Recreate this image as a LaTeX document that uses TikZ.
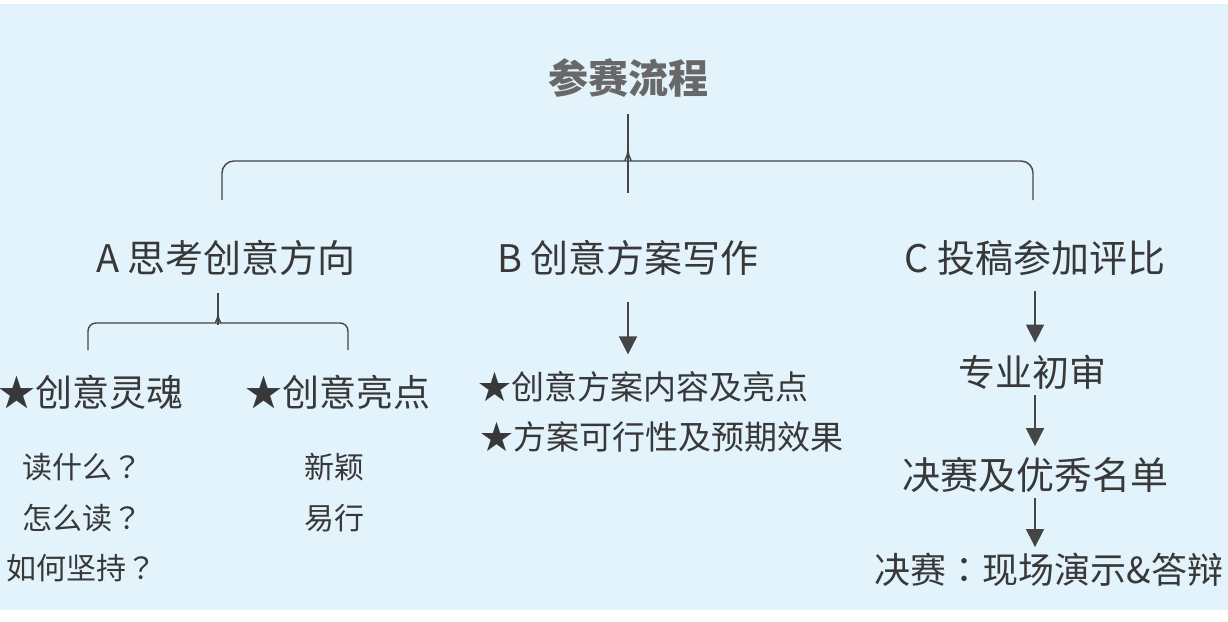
\documentclass[tikz,border=0pt]{standalone}
\usepackage{fontspec}
\setmainfont{Noto Sans CJK SC}
\newfontfamily\punct{Noto Sans CJK TC}
\usetikzlibrary{positioning, arrows.meta}
\definecolor{bgblue}{HTML}{E2F3FC}
\definecolor{inkgray}{HTML}{383838}
\definecolor{titlegray}{HTML}{686868}
\definecolor{linegray}{HTML}{454545}

\begin{document}
\begin{tikzpicture}[x=1pt, y=-1pt,
	head/.style={inner sep=0pt, text=inkgray, font=\fontsize{38}{40}\selectfont},
	item/.style={inner sep=0pt, text=inkgray, font=\fontsize{37}{40}\selectfont},
	plan/.style={inner sep=0pt, text=inkgray, font=\fontsize{33}{36}\selectfont},
	small/.style={inner sep=0pt, text=inkgray, font=\fontsize{30}{34}\selectfont},
	bline/.style={draw=linegray, line width=1.4pt},
	arr/.style={draw=linegray, line width=1.4pt, -{Triangle[width=18pt, length=18pt]}}]
	%background
	\useasboundingbox (0,0) rectangle (1228,621);
	\fill[bgblue] (0,4) rectangle (1228,610);
	%diagram
	\node[inner sep=0pt, text=titlegray, font=\fontsize{40}{44}\selectfont\bfseries] (title) at (628,78) {参赛流程};
	\node[head] (A) at (226,258) {A 思考创意方向};
	\node[head] (B) at (628,258) {B 创意方案写作};
	\node[head] (C) at (1035,258) {C 投稿参加评比};
	%A branch
	\node[item, anchor=west] (soul) at (-2,392) {★创意灵魂};
	\node[item, anchor=west] (spark) at (245,392) {★创意亮点};
	\node[small, anchor=west] (read1) at (22,467) {读什么{\punct ？}};
	\node[small, anchor=west] (read2) at (22,518) {怎么读{\punct ？}};
	\node[small, anchor=west] (read3) at (6,568) {如何坚持{\punct ？}};
	\node[small] (new) at (334,467) {新颖};
	\node[small] (easy) at (334,518) {易行};
	%B branch
	\node[plan, anchor=west] (plan1) at (478,387) {★创意方案内容及亮点};
	\node[plan, anchor=west] (plan2) at (480,437) {★方案可行性及预期效果};
	%C branch
	\node[item] (review) at (1032,372) {专业初审};
	\node[item, font=\fontsize{38}{40}\selectfont] (final) at (1035,475) {决赛及优秀名单};
	\node[item, font=\fontsize{36}{40}\selectfont] (show) at (1049,570) {决赛{\punct ：}现场演示\&答辩};
	%braces
	\draw[bline, rounded corners=12pt] (222,200) -- (222,161) -- (614,161) [sharp corners] .. controls (623,161) and (628,157) .. (628,150);
	\draw[bline, rounded corners=12pt] (1033,200) -- (1033,161) -- (642,161) [sharp corners] .. controls (633,161) and (628,157) .. (628,150);
	\draw[bline] (title.south |- 0,114) -- (title.south |- 0,193);
	\draw[bline, rounded corners=8pt] (88,350) -- (88,323) -- (208,323) [sharp corners] .. controls (214,323) and (218,320) .. (218,314);
	\draw[bline, rounded corners=8pt] (348,350) -- (348,323) -- (228,323) [sharp corners] .. controls (222,323) and (218,320) .. (218,314);
	\draw[bline] (218,293) -- (218,325);
	%arrows
	\draw[arr, shorten <=26pt, shorten >=17pt] (B.south) -- (B.south |- plan1.north);
	\draw[arr, shorten <=15pt, shorten >=12pt] (C.south) -- (C.south |- review.north);
	\draw[arr, shorten <=6pt, shorten >=11pt] (C.south |- review.south) -- (C.south |- final.north);
	\draw[arr, shorten <=5pt, shorten >=6pt] (C.south |- final.south) -- (C.south |- show.north);
\end{tikzpicture}
\end{document}
